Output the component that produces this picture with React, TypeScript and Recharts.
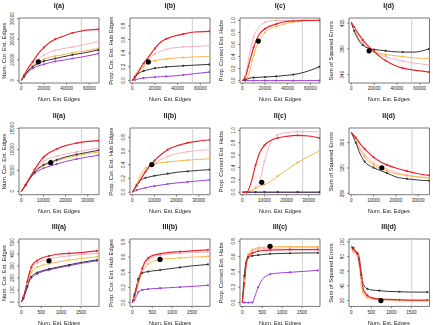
import React from 'react';
import {
  LineChart,
  Line,
  XAxis,
  YAxis,
  ReferenceArea,
  ReferenceLine,
  ReferenceDot,
} from 'recharts';

// ---- x grids (number of estimated edges) for each row of panels ----
const X_I = [0, 2500, 6000, 10000, 15000, 20000, 25000, 30000, 35000, 45000, 55000, 68000];
const X_II = [0, 2000, 4000, 6000, 8000, 10000, 13000, 16000, 20000, 25000, 30000, 35000];
const X_III = [0, 50, 100, 150, 200, 250, 300, 400, 500, 700, 900, 1200, 1500, 1900];

// ---- Row I ----
const IA_RED = [0, 2500, 6000, 9000, 13000, 16000, 18400, 20000, 21000, 23000, 24200, 24800];
const IA_PINK = [0, 2300, 5500, 8300, 10500, 12300, 13700, 14500, 15200, 16200, 17300, 18900];
const IA_ORANGE = [0, 2000, 4800, 7000, 9000, 10300, 11200, 11800, 12300, 13400, 14200, 15600];
const IA_BLACK = [0, 1900, 4500, 6600, 8200, 9300, 10000, 10600, 11200, 12400, 13300, 14800];
const IA_PURPLE = [0, 1800, 4000, 5800, 7000, 7800, 8600, 9200, 9600, 10600, 11500, 13000];

const IB_RED = [0, 0.06, 0.15, 0.25, 0.36, 0.47, 0.56, 0.61, 0.64, 0.68, 0.71, 0.72];
const IB_PINK = [0, 0.06, 0.15, 0.24, 0.33, 0.39, 0.43, 0.455, 0.475, 0.49, 0.5, 0.51];
const IB_ORANGE = [0, 0.05, 0.13, 0.2, 0.27, 0.29, 0.305, 0.315, 0.325, 0.335, 0.345, 0.35];
const IB_BLACK = [0, 0.05, 0.11, 0.14, 0.16, 0.18, 0.19, 0.2, 0.205, 0.215, 0.225, 0.235];
const IB_PURPLE = [0, 0.01, 0.025, 0.035, 0.045, 0.05, 0.055, 0.06, 0.065, 0.08, 0.1, 0.123];

const IC_RED = [0, 0.05, 0.28, 0.55, 0.77, 0.86, 0.91, 0.94, 0.97, 0.99, 1.0, 1.0];
const IC_PINK = [0, 0.07, 0.4, 0.72, 0.9, 0.97, 0.99, 1.0, 1.0, 1.0, 1.0, 1.0];
const IC_ORANGE = [0, 0.01, 0.12, 0.42, 0.66, 0.8, 0.87, 0.9, 0.93, 0.97, 0.99, 1.0];
const IC_BLACK = [0, 0.01, 0.04, 0.05, 0.055, 0.06, 0.065, 0.07, 0.08, 0.1, 0.14, 0.23];
const IC_PURPLE = [0, 0, 0, 0, 0, 0, 0, 0, 0, 0, 0, 0];

const ID_RED = [421, 414, 404, 394, 384, 376, 368, 362, 357, 350, 347, 344];
const ID_PINK = [421, 411, 399, 390, 382, 376, 371, 368, 365, 361, 358, 355];
const ID_ORANGE = [421, 410, 397, 388, 380, 376, 373, 371, 370, 368, 366, 365];
const ID_BLACK = [421, 408, 395, 386, 381, 379, 378, 377, 376, 375, 375, 380];

// ---- Row II ----
const IIA_RED = [0, 1600, 3400, 5200, 6800, 8100, 9300, 10100, 10900, 11500, 11900, 12100];
const IIA_PINK = [0, 1600, 3300, 4900, 6200, 7100, 7900, 8400, 8900, 9400, 9900, 10300];
const IIA_ORANGE = [0, 1500, 3200, 4500, 5400, 6100, 6800, 7300, 7900, 8500, 9000, 9400];
const IIA_BLACK = [0, 1500, 3200, 4600, 5600, 6300, 6900, 7500, 8200, 8800, 9300, 9800];
const IIA_PURPLE = [0, 1500, 3100, 4300, 5000, 5500, 6000, 6500, 7100, 7700, 8200, 8600];

const IIB_RED = [0, 0.1, 0.2, 0.3, 0.39, 0.46, 0.55, 0.62, 0.675, 0.72, 0.745, 0.765];
const IIB_PINK = [0, 0.1, 0.2, 0.3, 0.37, 0.42, 0.48, 0.52, 0.56, 0.59, 0.61, 0.62];
const IIB_ORANGE = [0, 0.12, 0.27, 0.35, 0.39, 0.41, 0.43, 0.44, 0.455, 0.468, 0.478, 0.488];
const IIB_BLACK = [0, 0.1, 0.18, 0.21, 0.225, 0.24, 0.255, 0.27, 0.29, 0.305, 0.318, 0.33];
const IIB_PURPLE = [0, 0.03, 0.05, 0.065, 0.08, 0.09, 0.105, 0.12, 0.135, 0.15, 0.165, 0.179];

const IIC_RED = [0, 0, 0.16, 0.44, 0.65, 0.76, 0.84, 0.88, 0.905, 0.92, 0.91, 0.876];
const IIC_PINK = [0, 0, 0.02, 0.08, 0.2, 0.5, 0.82, 0.93, 0.965, 0.98, 0.98, 0.98];
const IIC_ORANGE = [0, 0, 0.02, 0.06, 0.1, 0.12, 0.18, 0.26, 0.36, 0.48, 0.58, 0.67];
const IIC_BLACK = [0, 0, 0, 0, 0, 0, 0, 0, 0, 0, 0, 0];
const IIC_PURPLE = [0, 0, 0, 0, 0, 0, 0, 0, 0, 0, 0, 0];

const IID_RED = [376, 368, 358, 350, 343, 337, 330, 325, 320, 315, 311, 308.5];
const IID_PINK = [376, 364, 351, 341, 334, 328, 322, 318, 313, 309, 306, 305];
const IID_ORANGE = [376, 362, 348, 337, 330, 325, 319, 315, 311, 308, 306, 304];
const IID_BLACK = [376, 360, 342, 330, 324, 320.5, 316, 312, 306, 303, 301, 300];

// ---- Row III ----
const IIIA_RED = [0, 40, 100, 170, 240, 290, 320, 345, 365, 385, 398, 405, 412, 426];
const IIIA_PINK = [0, 40, 95, 160, 225, 270, 300, 325, 340, 360, 372, 385, 395, 405];
const IIIA_ORANGE = [0, 35, 85, 150, 205, 245, 270, 290, 305, 320, 333, 350, 362, 377];
const IIIA_BLACK = [0, 30, 75, 130, 180, 210, 228, 245, 258, 275, 290, 310, 330, 350];
const IIIA_PURPLE = [0, 30, 75, 125, 175, 200, 215, 235, 250, 268, 282, 302, 322, 344];

const IIIB_RED = [0, 0.08, 0.18, 0.28, 0.37, 0.45, 0.52, 0.59, 0.62, 0.645, 0.66, 0.672, 0.682, 0.697];
const IIIB_PINK = [0, 0.08, 0.17, 0.27, 0.36, 0.43, 0.49, 0.56, 0.6, 0.625, 0.64, 0.652, 0.66, 0.668];
const IIIB_ORANGE = [0, 0.07, 0.15, 0.25, 0.33, 0.4, 0.45, 0.51, 0.54, 0.57, 0.58, 0.59, 0.6, 0.61];
const IIIB_BLACK = [0, 0.1, 0.2, 0.31, 0.37, 0.39, 0.4, 0.41, 0.418, 0.43, 0.445, 0.465, 0.485, 0.504];
const IIIB_PURPLE = [0, 0.03, 0.08, 0.14, 0.16, 0.168, 0.172, 0.178, 0.183, 0.19, 0.196, 0.205, 0.214, 0.228];

const IIIC_RED = [0, 0.25, 0.5, 0.6, 0.63, 0.645, 0.655, 0.67, 0.68, 0.686, 0.688, 0.69, 0.69, 0.69];
const IIIC_PINK = [0, 0.28, 0.52, 0.61, 0.65, 0.675, 0.69, 0.7, 0.705, 0.71, 0.712, 0.715, 0.715, 0.715];
const IIIC_ORANGE = [0, 0.3, 0.55, 0.63, 0.67, 0.69, 0.7, 0.715, 0.72, 0.728, 0.73, 0.73, 0.73, 0.73];
const IIIC_BLACK = [0, 0.35, 0.55, 0.59, 0.605, 0.61, 0.614, 0.62, 0.625, 0.636, 0.64, 0.644, 0.647, 0.649];
const IIIC_PURPLE = [0, 0, 0, 0, 0, 0, 0.06, 0.2, 0.3, 0.37, 0.385, 0.395, 0.406, 0.42];

const IIID_RED = [93, 90, 87, 85, 78, 55, 35, 27, 24, 22, 21.5, 21, 20.5, 20.5];
const IIID_PINK = [93, 86, 84, 80, 65, 42, 28, 24, 22, 21, 20.5, 20, 19.5, 19.5];
const IIID_ORANGE = [93, 88, 85, 82, 72, 48, 30, 25, 23, 21.5, 21, 20.5, 20, 20];
const IIID_BLACK = [95, 92, 88, 84, 72, 55, 42, 36, 34.5, 33.5, 32.5, 32, 31.5, 31.5];

// ---- highlighted point (black dot) of each panel, row-major ----
const DOT_X = [15000, 14100, 14100, 15600, 13300, 8800, 8800, 13700, 696, 696, 696, 739];
const DOT_Y = [9000, 0.271, 0.656, 377, 6830, 0.403, 0.16, 320.4, 344, 0.57, 0.735, 20];

// ---- axis ticks ----
const X_TICKS = [
  [0, 20000, 40000, 60000],
  [0, 10000, 20000, 30000],
  [0, 500, 1000, 1500],
];
const X_DOMAINS: [number, number][] = [
  [-2026, 68550],
  [-1040, 35110],
  [-58, 1952],
];
const V_LINES = [52950, 27290, 1510];

const PANEL_TITLES = [
  'I(a)', 'I(b)', 'I(c)', 'I(d)',
  'II(a)', 'II(b)', 'II(c)', 'II(d)',
  'III(a)', 'III(b)', 'III(c)', 'III(d)',
];
const Y_LABELS = [
  'Num. Cor. Est. Edges',
  'Prop. Cor. Est. Hub Edges',
  'Prop. Correct Est. Hubs',
  'Sum of Squared Errors',
];
const X_LABEL = 'Num. Est. Edges';

const COLORS: Record<string, string> = {
  pink: '#f6b3bc',
  orange: '#f8b84c',
  purple: '#a040dc',
  black: '#353535',
  red: '#e8262d',
};
const DRAW_ORDER = ['pink', 'orange', 'purple', 'black', 'red'];

// plot-box edges on the page
const BOX_L = [19, 130, 240, 348.5];
const BOX_R = [99, 210, 320, 429];
const BOX_T = [18.3, 128.3, 239.3];
const BOX_B = [83.3, 195, 306.7];
const YLABEL_X = [4, 111, 221, 331];

type PanelDef = {
  row: number;
  col: number;
  x: number[];
  series: Record<string, number[]>;
  yDomain: [number, number];
  yTicks: number[];
  decimals: boolean;
};

const PANELS: PanelDef[] = [
  { row: 0, col: 0, x: X_I, series: { red: IA_RED, pink: IA_PINK, orange: IA_ORANGE, black: IA_BLACK, purple: IA_PURPLE }, yDomain: [-1300, 30300], yTicks: [0, 10000, 20000, 30000], decimals: false },
  { row: 0, col: 1, x: X_I, series: { red: IB_RED, pink: IB_PINK, orange: IB_ORANGE, black: IB_BLACK, purple: IB_PURPLE }, yDomain: [-0.037, 0.915], yTicks: [0, 0.2, 0.4, 0.6, 0.8], decimals: true },
  { row: 0, col: 2, x: X_I, series: { red: IC_RED, pink: IC_PINK, orange: IC_ORANGE, black: IC_BLACK, purple: IC_PURPLE }, yDomain: [-0.04, 1.04], yTicks: [0, 0.2, 0.4, 0.6, 0.8, 1.0], decimals: true },
  { row: 0, col: 3, x: X_I, series: { red: ID_RED, pink: ID_PINK, orange: ID_ORANGE, black: ID_BLACK }, yDomain: [327, 428], yTicks: [340, 380, 420], decimals: false },
  { row: 1, col: 0, x: X_II, series: { red: IIA_RED, pink: IIA_PINK, orange: IIA_ORANGE, black: IIA_BLACK, purple: IIA_PURPLE }, yDomain: [-800, 15100], yTicks: [0, 5000, 10000, 15000], decimals: false },
  { row: 1, col: 1, x: X_II, series: { red: IIB_RED, pink: IIB_PINK, orange: IIB_ORANGE, black: IIB_BLACK, purple: IIB_PURPLE }, yDomain: [-0.036, 0.936], yTicks: [0, 0.2, 0.4, 0.6, 0.8], decimals: true },
  { row: 1, col: 2, x: X_II, series: { red: IIC_RED, pink: IIC_PINK, orange: IIC_ORANGE, black: IIC_BLACK, purple: IIC_PURPLE }, yDomain: [-0.04, 1.04], yTicks: [0, 0.2, 0.4, 0.6, 0.8, 1.0], decimals: true },
  { row: 1, col: 3, x: X_II, series: { red: IID_RED, pink: IID_PINK, orange: IID_ORANGE, black: IID_BLACK }, yDomain: [278, 383], yTicks: [280, 320, 360], decimals: false },
  { row: 2, col: 0, x: X_III, series: { red: IIIA_RED, pink: IIIA_PINK, orange: IIIA_ORANGE, black: IIIA_BLACK, purple: IIIA_PURPLE }, yDomain: [-36, 525], yTicks: [0, 100, 200, 300, 400, 500], decimals: false },
  { row: 2, col: 1, x: X_III, series: { red: IIIB_RED, pink: IIIB_PINK, orange: IIIB_ORANGE, black: IIIB_BLACK, purple: IIIB_PURPLE }, yDomain: [-0.05, 0.84], yTicks: [0, 0.2, 0.4, 0.6, 0.8], decimals: true },
  { row: 2, col: 2, x: X_III, series: { red: IIIC_RED, pink: IIIC_PINK, orange: IIIC_ORANGE, black: IIIC_BLACK, purple: IIIC_PURPLE }, yDomain: [-0.05, 0.83], yTicks: [0, 0.2, 0.4, 0.6, 0.8], decimals: true },
  { row: 2, col: 3, x: X_III, series: { red: IIID_RED, pink: IIID_PINK, orange: IIID_ORANGE, black: IIID_BLACK }, yDomain: [12, 104], yTicks: [20, 40, 60, 80, 100], decimals: false },
];

const FONT = '"Liberation Sans", Arial, Helvetica, sans-serif';
const TEXT = '#222';
const TICK_FONT = 4.6;

const XTick = (props: any) => {
  const { x, y, payload } = props;
  return (
    <text x={x} y={y + 4.4} textAnchor="middle" fontSize={TICK_FONT} fontFamily={FONT} fill={TEXT}>
      {String(payload.value)}
    </text>
  );
};

const makeYTick = (decimals: boolean) => (props: any) => {
  const { x, y, payload } = props;
  const bx = x - 2.4;
  const label = decimals ? Number(payload.value).toFixed(1) : String(payload.value);
  return (
    <text x={bx} y={y} transform={`rotate(-90, ${bx}, ${y})`} textAnchor="middle" fontSize={TICK_FONT} fontFamily={FONT} fill={TEXT}>
      {label}
    </text>
  );
};

const makeMarker = (color: string) => (props: any) => {
  const { cx, cy, index } = props;
  if (index % 2 !== 1 || cx == null || cy == null) return <g key={`m${index}`} />;
  return <circle key={`m${index}`} cx={cx} cy={cy} r={1.1} fill={color} stroke="none" />;
};

const PAD_L = 20;
const PAD_T = 6;
const PAD_B = 22;
const PAD_R = 1;

function Panel({ p, idx }: { p: PanelDef; idx: number }) {
  const bl = BOX_L[p.col];
  const br = BOX_R[p.col];
  const bt = BOX_T[p.row];
  const bb = BOX_B[p.row];
  const w = br - bl + PAD_L + PAD_R;
  const h = bb - bt + PAD_T + PAD_B;
  const keys = DRAW_ORDER.filter((k) => p.series[k]);
  const data = p.x.map((xv, i) => {
    const row: Record<string, number> = { x: xv };
    keys.forEach((k) => {
      row[k] = p.series[k][i];
    });
    return row;
  });
  const xd = X_DOMAINS[p.row];
  return (
    <div style={{ position: 'absolute', left: bl - PAD_L, top: bt - PAD_T, width: w, height: h }}>
      <LineChart width={w} height={h} data={data} margin={{ top: PAD_T, right: PAD_R, bottom: 0, left: 0 }}>
        <XAxis
          type="number"
          dataKey="x"
          domain={xd}
          ticks={X_TICKS[p.row]}
          allowDataOverflow
          interval={0}
          axisLine={false}
          tickSize={2}
          tickMargin={1}
          tickLine={{ stroke: '#444', strokeWidth: 0.6 }}
          height={PAD_B}
          tick={(t: any) => <XTick {...t} />}
        />
        <YAxis
          type="number"
          domain={p.yDomain}
          ticks={p.yTicks}
          allowDataOverflow
          interval={0}
          axisLine={false}
          tickSize={2}
          tickMargin={1}
          tickLine={{ stroke: '#444', strokeWidth: 0.6 }}
          width={PAD_L}
          tick={makeYTick(p.decimals)}
        />
        <ReferenceLine x={V_LINES[p.row]} stroke="#cdcdcd" strokeWidth={1} />
        {keys.map((k) => (
          <Line
            key={k}
            type="monotone"
            dataKey={k}
            stroke={COLORS[k]}
            strokeWidth={k === 'red' ? 1.2 : 1}
            dot={makeMarker(COLORS[k])}
            activeDot={false}
            isAnimationActive={false}
          />
        ))}
        <ReferenceDot x={DOT_X[idx]} y={DOT_Y[idx]} r={2.6} fill="#000" stroke="none" />
        <ReferenceArea
          x1={xd[0]}
          x2={xd[1]}
          y1={p.yDomain[0]}
          y2={p.yDomain[1]}
          fill="none"
          fillOpacity={0}
          stroke="#555"
          strokeWidth={0.8}
          ifOverflow="visible"
        />
      </LineChart>
    </div>
  );
}

// panel titles and axis titles, drawn as one text layer over the grid
function Captions() {
  return (
    <svg
      width={433}
      height={325}
      style={{ position: 'absolute', left: 0, top: 0, pointerEvents: 'none', willChange: 'transform' }}
    >
      {PANELS.map((p, i) => {
        const cx = (BOX_L[p.col] + BOX_R[p.col]) / 2;
        const cy = (BOX_T[p.row] + BOX_B[p.row]) / 2;
        const lx = YLABEL_X[p.col];
        return (
          <g key={i} fontFamily={FONT} fill={TEXT}>
            <text x={cx} y={BOX_T[p.row] - 10} textAnchor="middle" fontSize={7} fontWeight="bold">
              {PANEL_TITLES[i]}
            </text>
            <text x={cx} y={BOX_B[p.row] + 18} textAnchor="middle" fontSize={5.6}>
              {X_LABEL}
            </text>
            <text x={lx + 2} y={cy} transform={`rotate(-90, ${lx + 2}, ${cy})`} textAnchor="middle" fontSize={5.8}>
              {Y_LABELS[p.col]}
            </text>
          </g>
        );
      })}
    </svg>
  );
}

export default function App() {
  return (
    <div style={{ position: 'absolute', left: 0, top: 0, width: 433, height: 325, background: '#fff', overflow: 'hidden' }}>
      {PANELS.map((p, i) => (
        <Panel key={i} p={p} idx={i} />
      ))}
      <Captions />
    </div>
  );
}
